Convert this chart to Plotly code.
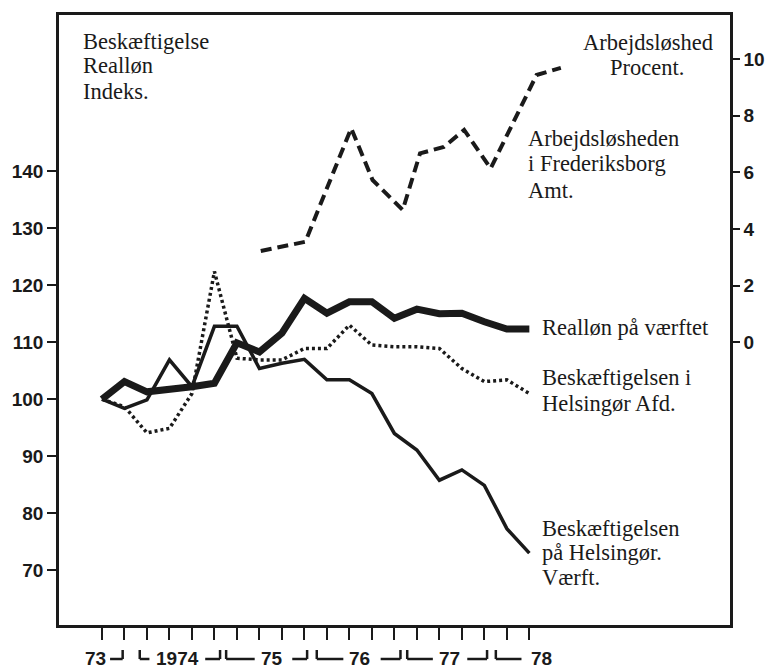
import plotly.graph_objects as go

# Quarterly positions (tick index 0..19, 1973 Q4 .. 1978 Q3)
quarters = list(range(20))

# Index series (left axis)
realloen = [100, 103.1, 101.3, 101.6, 102.2, 102.8, 109.9, 108.3, 111.6, 117.7,
            115.1, 117.1, 117.1, 114.2, 115.8, 115.0, 115.1, 113.6, 112.3, 112.3]
besk_afd = [100, 98.7, 94.1, 94.9, 101.0, 122.4, 107.2, 106.9, 106.9, 108.9,
            108.9, 113.0, 109.5, 109.2, 109.2, 108.9, 105.4, 103.1, 103.4, 101.0]
besk_vaerft = [100, 98.4, 99.9, 106.9, 102.2, 112.8, 112.8, 105.4, 106.3, 107.0,
               103.4, 103.4, 101.0, 94.0, 91.1, 85.8, 87.6, 84.9, 77.3, 73.0]

# Unemployment, Frederiksborg Amt (right axis, percent)
ledig_x = [7.06, 9.04, 11.08, 12.03, 13.37, 14.14, 15.2, 16.1, 17.28, 19.32, 20.4]
ledig = [3.22, 3.55, 7.56, 5.73, 4.67, 6.67, 6.9, 7.5, 6.14, 9.44, 9.69]

left_ticks = [70, 80, 90, 100, 110, 120, 130, 140]
right_ticks = [0, 2, 4, 6, 8, 10]

# x-axis year labels, in quarter units
year_labels = ["73", "1974", "75", "76", "77", "78"]
year_pos = [-0.29, 3.34, 7.58, 11.47, 15.46, 19.53]
# period brackets: (start, end, side of the upward hook)
bracket_start = [0.36, 1.68, 4.59, 5.52, 8.46, 9.55, 12.39, 13.57, 16.24, 17.51]
bracket_end = [0.92, 2.11, 5.25, 6.79, 9.12, 10.73, 13.27, 14.71, 17.12, 18.65]
bracket_hook = ["end", "start", "end", "start", "end", "start", "end", "start", "end", "start"]

W, H = 777, 668
L, R, T, B = 58, 37, 15, 43
PW, PH = W - L - R, H - T - B

def px(x):
    return (x - L) / PW

def py(y):
    return (H - B - y) / PH

ink = "#1a1a1a"
fig = go.Figure()
fig.add_trace(go.Scatter(x=quarters, y=besk_vaerft, mode="lines",
                         line=dict(color=ink, width=3.5)))
fig.add_trace(go.Scatter(x=quarters, y=besk_afd, mode="lines",
                         line=dict(color=ink, width=3.5, dash="3px,3px")))
fig.add_trace(go.Scatter(x=quarters, y=realloen, mode="lines",
                         line=dict(color=ink, width=7)))
fig.add_trace(go.Scatter(x=ledig_x, y=ledig, mode="lines", yaxis="y2",
                         line=dict(color=ink, width=4, dash="11px,6px")))

serif = "Liberation Serif, Times New Roman, serif"
sans = "Liberation Sans, Arial, DejaVu Sans, sans-serif"
tf = dict(family=serif, size=22.5, color=ink)

ann = []
def lines(texts, x, y0, xa="left", step=25):
    for i, t_ in enumerate(texts):
        ann.append(dict(text=t_, x=px(x), y=py(y0 + i * step), xref="paper", yref="paper",
                        xanchor=xa, yanchor="middle", showarrow=False, font=tf))

lines(["Beskæftigelse", "Realløn", "Indeks."], 80, 41)
lines(["Arbejdsløshed"], 725, 42, xa="right")
lines(["Procent."], 616, 67)
lines(["Arbejdsløsheden", "i Frederiksborg", "Amt."], 533, 138, step=26)
lines(["Realløn på værftet"], 547, 327)
lines(["Beskæftigelsen i", "Helsingør Afd."], 547, 378)
lines(["Beskæftigelsen", "på Helsingør.", "Værft."], 547, 528, step=24.5)

for t_, p_ in zip(year_labels, year_pos):
    ann.append(dict(text="<b>%s</b>" % t_, x=p_, y=py(658), xref="x", yref="paper",
                    xanchor="center", yanchor="middle", showarrow=False,
                    font=dict(family=sans, size=19, color=ink)))

shapes = []
y_h, y_top = py(659), py(650)
for s_, e_, h_ in zip(bracket_start, bracket_end, bracket_hook):
    shapes.append(dict(type="line", xref="x", yref="paper", x0=s_, x1=e_, y0=y_h, y1=y_h,
                       line=dict(color=ink, width=2.5)))
    hx = e_ if h_ == "end" else s_
    shapes.append(dict(type="line", xref="x", yref="paper", x0=hx, x1=hx, y0=y_h, y1=y_top,
                       line=dict(color=ink, width=2.5)))

fig.update_layout(
    width=W, height=H, autosize=False,
    margin=dict(l=L, r=R, t=T, b=B),
    paper_bgcolor="white", plot_bgcolor="white",
    showlegend=False,
    annotations=ann,
    shapes=shapes,
    xaxis=dict(range=[-1.91, 27.92], tickvals=quarters, ticktext=[""] * len(quarters),
               ticks="outside", ticklen=12, tickwidth=2, tickcolor=ink,
               showline=True, linewidth=2.5, linecolor=ink, mirror=True,
               showgrid=False, zeroline=False),
    yaxis=dict(range=[60.4, 167.4], tickvals=left_ticks,
               ticks="outside", ticklen=9, tickwidth=2, tickcolor=ink,
               showline=True, linewidth=2.5, linecolor=ink,
               showgrid=False, zeroline=False,
               tickfont=dict(family=sans, size=19, color=ink, weight="bold")),
    yaxis2=dict(range=[-9.99, 11.56], tickvals=right_ticks, overlaying="y", side="right",
                ticks="outside", ticklen=7, tickwidth=2, tickcolor=ink,
                showline=True, linewidth=2.5, linecolor=ink,
                showgrid=False, zeroline=False,
                tickfont=dict(family=sans, size=19, color=ink, weight="bold")),
)

fig.write_html("out.html",
               config={"displayModeBar": False, "responsive": False},
               post_script="document.body.style.margin='0';document.body.style.overflow='hidden';")
